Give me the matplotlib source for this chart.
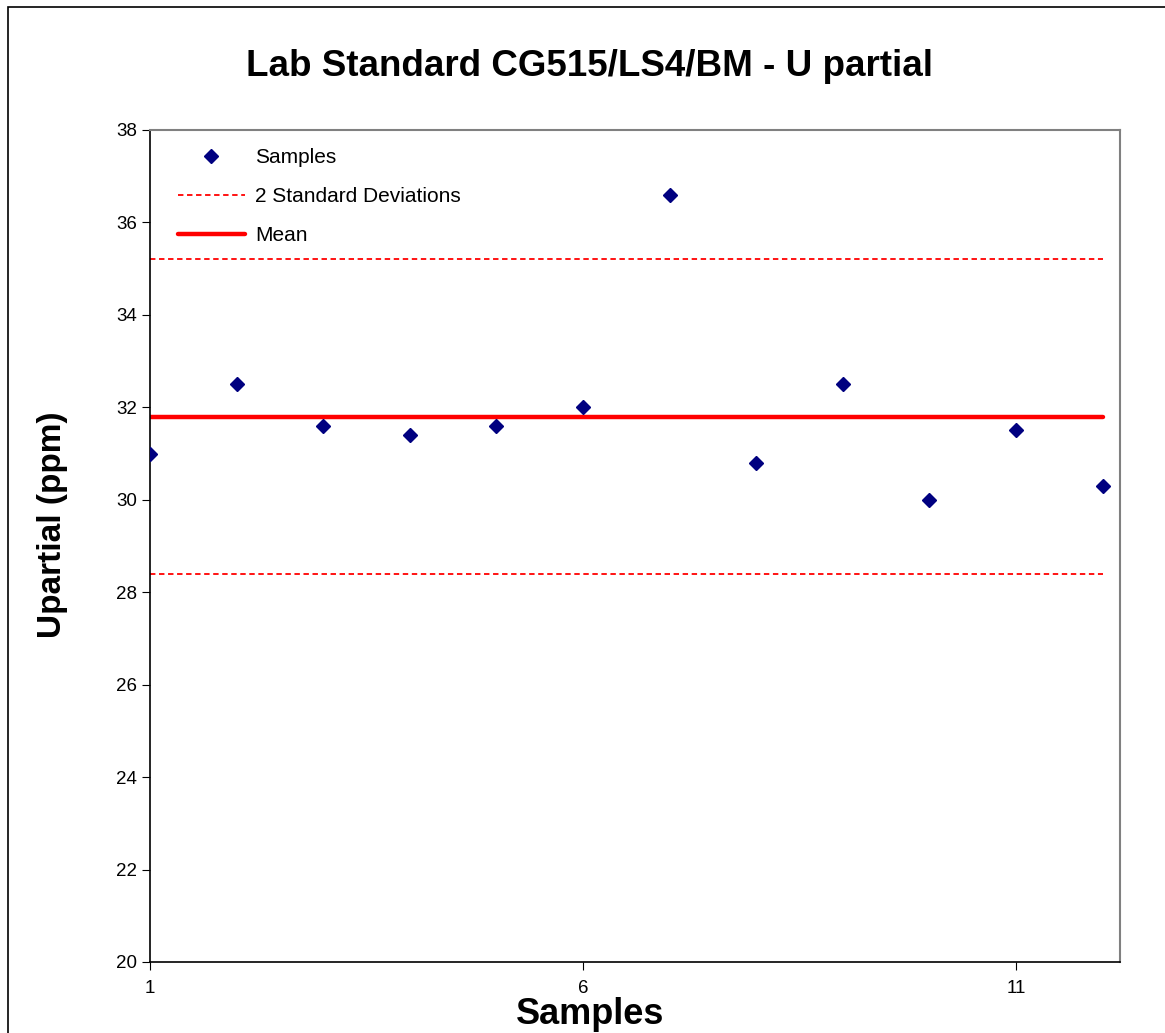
import matplotlib
matplotlib.use("Agg")
import matplotlib.pyplot as plt
from matplotlib.patches import Rectangle

samples = [1, 2, 3, 4, 5, 6, 7, 8, 9, 10, 11, 12]
values = [31.0, 32.5, 31.6, 31.4, 31.6, 32.0, 36.6, 30.8, 32.5, 30.0, 31.5, 30.3]
mean_val = 31.8
upper_2sd = 35.2
lower_2sd = 28.4
x_ticks = [1, 6, 11]
y_ticks = [20, 22, 24, 26, 28, 30, 32, 34, 36, 38]

plt.rcParams['font.family'] = ['Liberation Sans', 'DejaVu Sans']

W, H = 1165, 1033
fig = plt.figure(figsize=(W / 100, H / 100), dpi=100)
fig.patches.append(Rectangle((8 / W, -0.01), 1.2, 1 - 7 / H + 0.01, transform=fig.transFigure,
                             fill=False, edgecolor='black', linewidth=1.2))
ax = fig.add_axes([150 / W, 1 - 962 / H, (1120 - 150) / W, (962 - 130) / H])

xs = [samples[0], samples[-1]]
ax.plot(samples, values, linestyle='none', marker='D', markersize=7.5,
        color='#000080', label='Samples', zorder=3)
ax.plot(xs, [upper_2sd] * 2, color='red', linestyle=(0, (3, 2)), linewidth=1.3,
        label='2 Standard Deviations')
ax.plot(xs, [lower_2sd] * 2, color='red', linestyle=(0, (3, 2)), linewidth=1.3)
ax.plot(xs, [mean_val] * 2, color='red', linestyle='-', linewidth=3.2,
        solid_capstyle='round', label='Mean')

ax.set_xlim(1, 12.2)
ax.set_ylim(20, 38)
ax.set_xticks(x_ticks)
ax.set_yticks(y_ticks)
ax.tick_params(axis='both', direction='out', length=6, labelsize=13.5)
ax.tick_params(axis='x', pad=7)
for s in ['top', 'right']:
    ax.spines[s].set_color('#808080')
    ax.spines[s].set_linewidth(1.5)
for s in ['left', 'bottom']:
    ax.spines[s].set_linewidth(1.2)

fig.text(590 / W, 1 - 66 / H, 'Lab Standard CG515/LS4/BM - U partial', fontsize=26.5,
         fontweight='bold', ha='center', va='center')
fig.text(590 / W, 1 - 1015 / H, 'Samples', fontsize=26, fontweight='bold',
         ha='center', va='center')
fig.text(52 / W, 1 - 525 / H, 'Upartial (ppm)', fontsize=24, fontweight='bold',
         ha='center', va='center', rotation=90)

ax.legend(loc='upper left', frameon=False, fontsize=15, handlelength=3.2,
          handletextpad=0.5, labelspacing=0.95, bbox_to_anchor=(0.003, 1.008),
          borderaxespad=0.8)

fig.savefig('out.png', dpi=100)
